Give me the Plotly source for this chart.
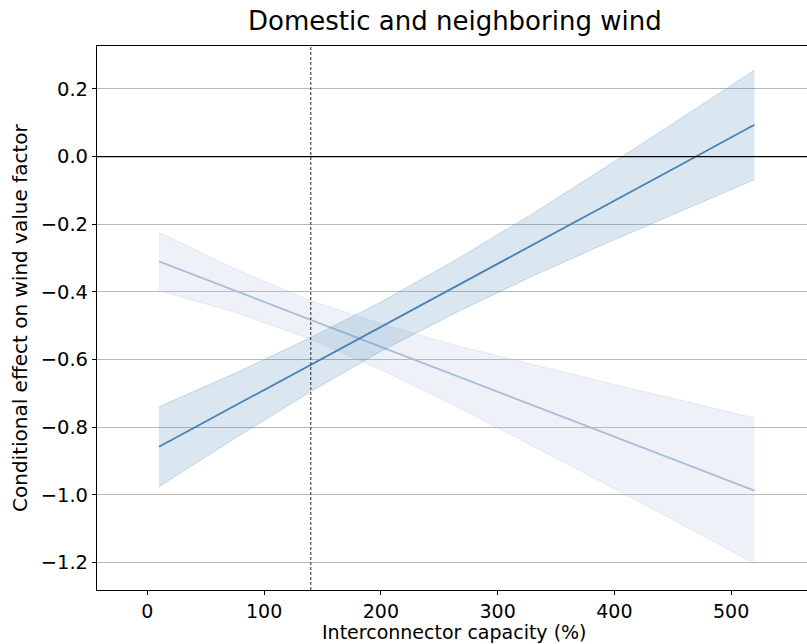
import plotly.graph_objects as go

# Data
capacity = [10, 75, 140, 200, 265, 330, 390, 455, 520]

domestic_effect = [-0.858, -0.737, -0.615, -0.503, -0.382, -0.261, -0.149, -0.028, 0.094]
domestic_upper = [-0.740, -0.641, -0.535, -0.430, -0.304, -0.169, -0.037, 0.108, 0.256]
domestic_lower = [-0.976, -0.833, -0.695, -0.576, -0.460, -0.353, -0.261, -0.164, -0.068]

neighbor_effect = [-0.310, -0.396, -0.483, -0.562, -0.649, -0.735, -0.815, -0.901, -0.988]
neighbor_upper = [-0.224, -0.332, -0.426, -0.494, -0.559, -0.615, -0.666, -0.719, -0.773]
neighbor_lower = [-0.396, -0.460, -0.540, -0.630, -0.739, -0.855, -0.964, -1.083, -1.203]

reference_capacity = 140
y_ticks = [0.2, 0.0, -0.2, -0.4, -0.6, -0.8, -1.0, -1.2]
x_ticks = [0, 100, 200, 300, 400, 500]

FONT = "DejaVu Sans"

fig = go.Figure()

def band(x, lo, hi, fill, edge):
    fig.add_trace(go.Scatter(x=x, y=hi, mode="lines", line=dict(color=edge, width=1),
                             showlegend=False, hoverinfo="skip"))
    fig.add_trace(go.Scatter(x=x, y=lo, mode="lines", line=dict(color=edge, width=1),
                             fill="tonexty", fillcolor=fill, showlegend=False, hoverinfo="skip"))

band(capacity, neighbor_lower, neighbor_upper, "rgba(176,196,222,0.22)", "rgba(176,196,222,0.3)")
fig.add_trace(go.Scatter(x=capacity, y=neighbor_effect, mode="lines",
                         line=dict(color="#a9bedb", width=1.8), showlegend=False))

band(capacity, domestic_lower, domestic_upper, "rgba(70,130,180,0.2)", "rgba(70,130,180,0.25)")
fig.add_trace(go.Scatter(x=capacity, y=domestic_effect, mode="lines",
                         line=dict(color="#4a80b4", width=1.8), showlegend=False))

fig.add_hline(y=0, line=dict(color="black", width=1.4), layer="above")
fig.add_vline(x=reference_capacity, line=dict(color="#3a3a3a", width=1.1, dash="3px,2px"), layer="above")

fig.update_layout(
    width=807, height=644,
    margin=dict(l=97, r=0, t=46, b=54),
    paper_bgcolor="white", plot_bgcolor="white",
    font=dict(family=FONT, size=19, color="black"),
    title=dict(text="Domestic and neighboring wind", x=0.504, xref="paper", xanchor="center",
               y=1 - 21 / 644, yref="container", yanchor="middle",
               font=dict(family=FONT, size=26, color="black")),
    xaxis=dict(range=[-43.1, 565.0], tickvals=x_ticks, showgrid=False, zeroline=False,
               showline=True, linecolor="black", linewidth=1.2, mirror=True,
               ticks="outside", ticklen=4, tickcolor="black",
               tickfont=dict(family=FONT, size=19)),
    yaxis=dict(range=[-1.2816, 0.327], tickvals=y_ticks, ticktext=[f"{v:.1f}".replace("-", "\u2212") for v in y_ticks],
               showgrid=True, gridcolor="#b8b8b8", gridwidth=1, zeroline=False,
               showline=True, linecolor="black", linewidth=1.2,
               ticks="outside", ticklen=4, tickcolor="black",
               tickfont=dict(family=FONT, size=19.5)),
    annotations=[
        dict(text="Interconnector capacity (%)", xref="paper", yref="paper",
             x=0.504, y=(590 - 632) / 544, xanchor="center", yanchor="middle",
             showarrow=False, font=dict(family=FONT, size=19)),
        dict(text="Conditional effect on wind value factor", xref="paper", yref="paper",
             x=(20 - 97) / 710, y=0.5, xanchor="center", yanchor="middle", textangle=-90,
             showarrow=False, font=dict(family=FONT, size=20)),
    ],
)

fig.write_html("out.html")
